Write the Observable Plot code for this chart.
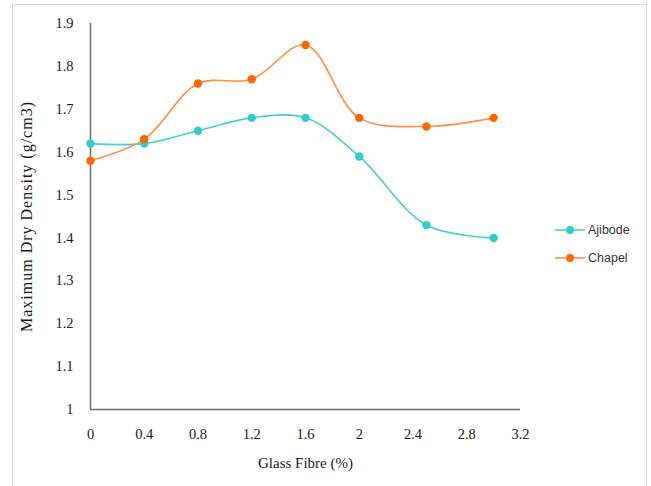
<!DOCTYPE html>
<html>
<head>
<meta charset="utf-8">
<script src="https://cdn.jsdelivr.net/npm/d3@7"></script>
<script src="https://cdn.jsdelivr.net/npm/@observablehq/plot@0.6"></script>
<style>
  html, body { margin: 0; padding: 0; background: #fff; }
  #wrap { position: relative; width: 651px; height: 486px; overflow: hidden; }
  #frame { position: absolute; left: 12px; top: 4px; width: 635px; height: 500px; border: 1.5px solid #d9d9d9; box-sizing: border-box; }
  #chart { position: absolute; left: 0; top: 0; }
  #legend { position: absolute; left: 554px; top: 216px; font-family: "Liberation Sans", "DejaVu Sans", sans-serif; font-size: 12.5px; color: #333; }
  .item { display: flex; align-items: center; height: 28px; }
  .item svg { margin-right: 2px; }
  #chart svg g[aria-label="y-axis label"] text { font-size: 16px; letter-spacing: 1px; }
  #chart svg g[aria-label="x-axis label"] text { font-size: 15px; }
</style>
</head>
<body>
<div id="wrap">
  <div id="frame"></div>
  <div id="chart"></div>
  <div id="legend"></div>
</div>
<script>
const fibre = [0, 0.4, 0.8, 1.2, 1.6, 2, 2.5, 3];
const ajibode = [1.62, 1.62, 1.65, 1.68, 1.68, 1.59, 1.43, 1.40];
const chapel = [1.58, 1.63, 1.76, 1.77, 1.85, 1.68, 1.66, 1.68];
const seriesNames = ["Ajibode", "Chapel"];
const lineColors = ["#45d0d0", "#ff8f45"];
const dotColors = ["#33cccc", "#ff6600"];
const xTicks = [0, 0.4, 0.8, 1.2, 1.6, 2, 2.4, 2.8, 3.2];
const yTicks = [1, 1.1, 1.2, 1.3, 1.4, 1.5, 1.6, 1.7, 1.8, 1.9];

const rows = [];
fibre.forEach((x, i) => {
  rows.push({series: "Ajibode", x, y: ajibode[i]});
  rows.push({series: "Chapel", x, y: chapel[i]});
});

const colorOf = (arr) => (d) => arr[seriesNames.indexOf(d.series)];

const chart = Plot.plot({
  width: 651,
  height: 486,
  marginLeft: 90,
  marginRight: 131,
  marginTop: 23,
  marginBottom: 77,
  style: { fontFamily: "'Liberation Serif', 'DejaVu Serif', serif", fontSize: "14.5px", color: "#1a1a1a", background: "transparent" },
  x: { domain: [0, 3.2] },
  y: { domain: [1, 1.9] },
  marks: [
    Plot.axisX({ ticks: xTicks, tickSize: 0, tickPadding: 19, tickFormat: d => String(+d.toFixed(1)), label: "Glass Fibre (%)", labelAnchor: "center", labelOffset: 58, labelArrow: "none" }),
    Plot.axisY({ ticks: yTicks, tickSize: 0, tickPadding: 17, tickFormat: d => String(+d.toFixed(1)), label: "Maximum Dry Density (g/cm3)", labelAnchor: "center", labelOffset: 70, labelArrow: "none" }),
    Plot.ruleX([0], { y1: 1, y2: 1.9, stroke: "#6e6e6e", strokeWidth: 1.5 }),
    Plot.ruleY([1], { x1: 0, x2: 3.2, stroke: "#6e6e6e", strokeWidth: 1.5 }),
    Plot.line(rows, { x: "x", y: "y", z: "series", stroke: colorOf(lineColors), strokeWidth: 1.6, curve: "catmull-rom" }),
    Plot.dot(rows, { x: "x", y: "y", fill: colorOf(dotColors), r: 4.2 })
  ]
});
document.getElementById("chart").appendChild(chart);

const legend = document.getElementById("legend");
seriesNames.forEach((name, i) => {
  const item = document.createElement("div");
  item.className = "item";
  item.innerHTML = `<svg width="32" height="10"><line x1="1" y1="5" x2="31" y2="5" stroke="${lineColors[i]}" stroke-width="1.6"/><circle cx="16" cy="5" r="4" fill="${dotColors[i]}"/></svg><span>${name}</span>`;
  legend.appendChild(item);
});
</script>
</body>
</html>
